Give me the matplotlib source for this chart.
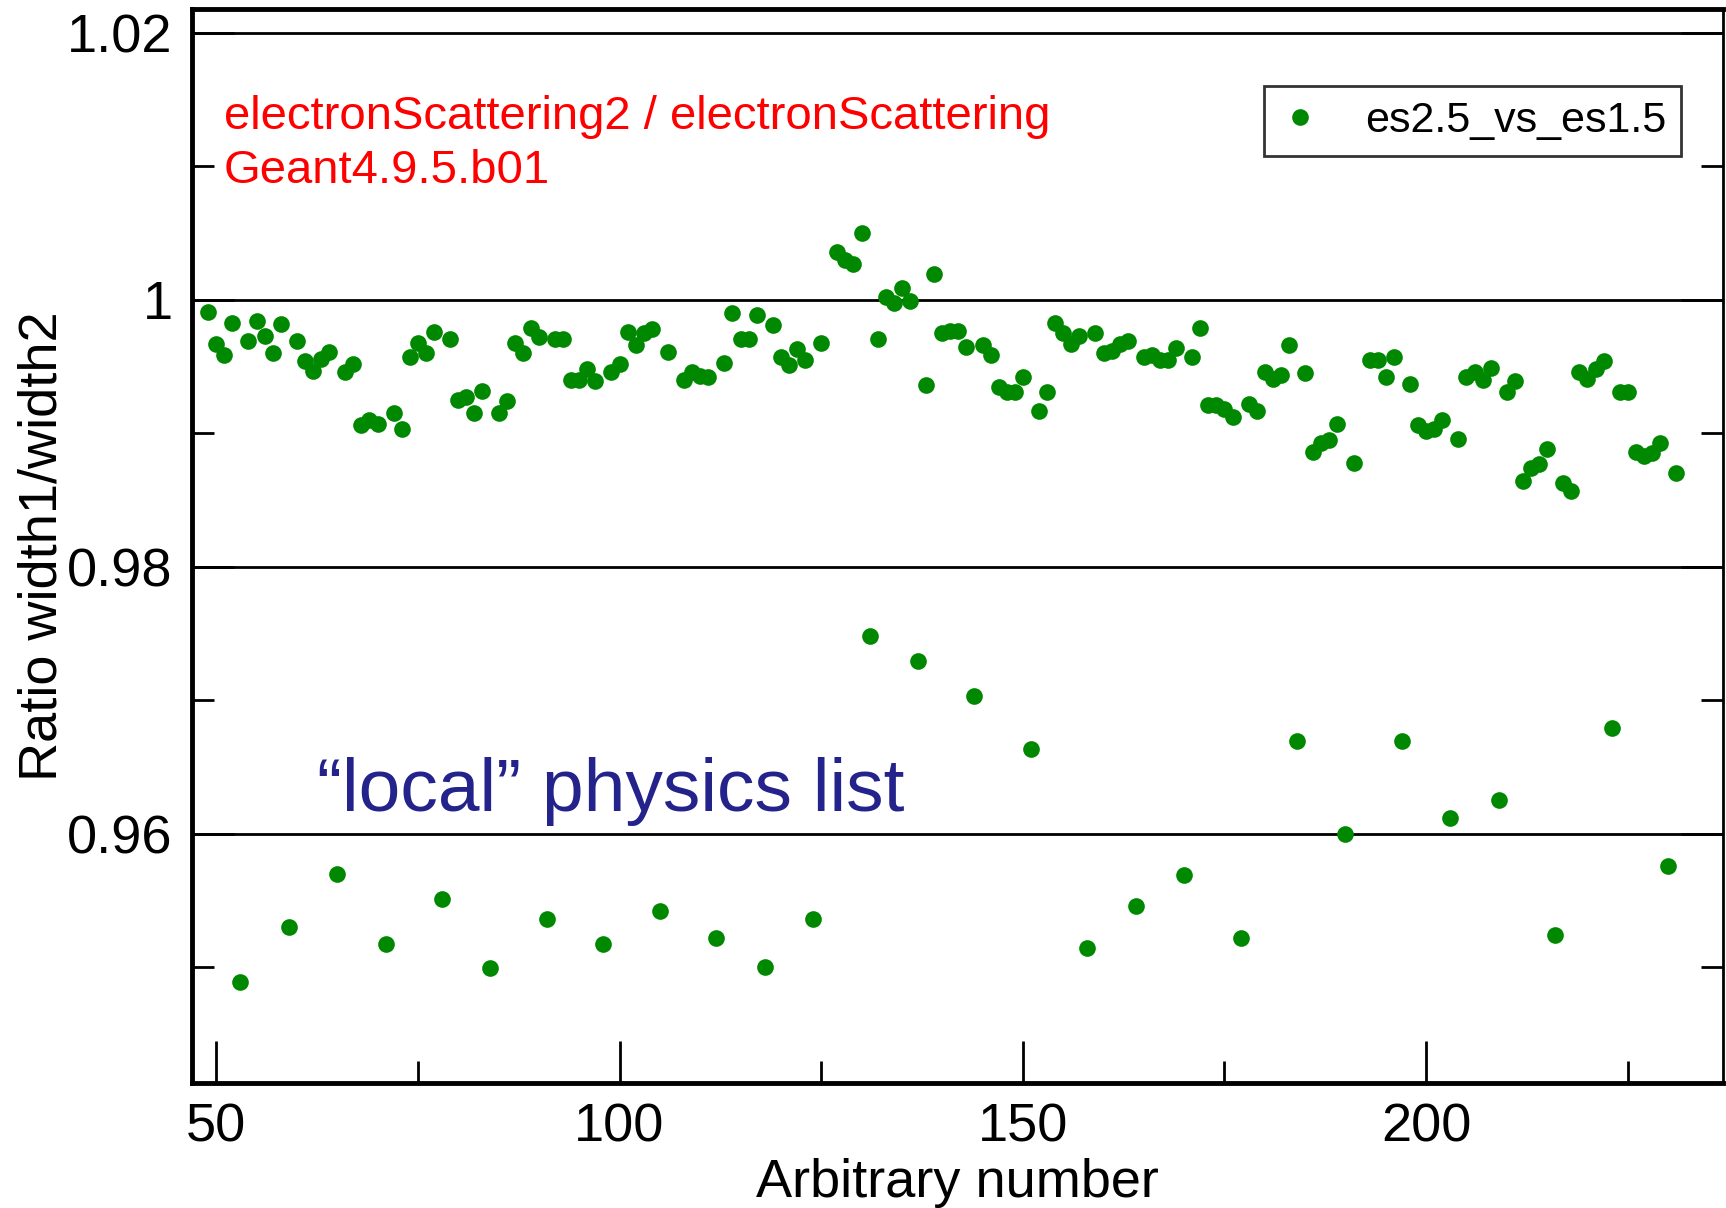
import matplotlib
matplotlib.use("Agg")
import matplotlib.pyplot as plt
from matplotlib.ticker import MultipleLocator

# es2.5 vs es1.5, one point per run number
arbitrary_number = [
    49, 50, 51, 52, 53, 54, 55, 56, 57, 58, 59, 60, 61, 62, 63, 64, 65, 66, 67, 68,
    69, 70, 71, 72, 73, 74, 75, 76, 77, 78, 79, 80, 81, 82, 83, 84, 85, 86, 87, 88,
    89, 90, 91, 92, 93, 94, 95, 96, 97, 98, 99, 100, 101, 102, 103, 104, 105, 106,
    108, 109, 110, 111, 112, 113, 114, 115, 116, 117, 118, 119, 120, 121, 122, 123,
    124, 125, 127, 128, 129, 130, 131, 132, 133, 134, 135, 136, 137, 138, 139, 140,
    141, 142, 143, 144, 145, 146, 147, 148, 149, 150, 151, 152, 153, 154, 155, 156,
    157, 158, 159, 160, 161, 162, 163, 164, 165, 166, 167, 168, 169, 170, 171, 172,
    173, 174, 175, 176, 177, 178, 179, 180, 181, 182, 183, 184, 185, 186, 187, 188,
    189, 190, 191, 193, 194, 195, 196, 197, 198, 199, 200, 201, 202, 203, 204, 205,
    206, 207, 208, 209, 210, 211, 212, 213, 214, 215, 216, 217, 218, 219, 220, 221,
    222, 223, 224, 225, 226, 227, 228, 229, 230, 231,
]
ratio = [
    0.9991, 0.9967, 0.9959, 0.9983, 0.9489, 0.9969, 0.9984, 0.9973, 0.9960, 0.9982,
    0.9530, 0.9969, 0.9954, 0.9947, 0.9956, 0.9961, 0.9570, 0.9946, 0.9952, 0.9906,
    0.9910, 0.9907, 0.9517, 0.9915, 0.9903, 0.9957, 0.9968, 0.9960, 0.9976, 0.9551,
    0.9971, 0.9925, 0.9927, 0.9915, 0.9932, 0.9499, 0.9915, 0.9924, 0.9968, 0.9960,
    0.9979, 0.9972, 0.9536, 0.9971, 0.9971, 0.9940, 0.9940, 0.9948, 0.9939, 0.9517,
    0.9946, 0.9952, 0.9976, 0.9966, 0.9975, 0.9978, 0.9542, 0.9961,
    0.9940, 0.9946, 0.9943, 0.9942, 0.9522, 0.9953, 0.9990, 0.9971, 0.9971, 0.9989,
    0.9500, 0.9981, 0.9957, 0.9951, 0.9963, 0.9955,
    0.9536, 0.9968, 1.0036, 1.0030, 1.0027, 1.0050, 0.9748, 0.9971, 1.0002, 0.9998,
    1.0009, 0.9999, 0.9729, 0.9936, 1.0019, 0.9975,
    0.9977, 0.9977, 0.9965, 0.9703, 0.9966, 0.9959, 0.9935, 0.9931, 0.9931, 0.9942,
    0.9663, 0.9917, 0.9931, 0.9983, 0.9975, 0.9967,
    0.9973, 0.9514, 0.9975, 0.9960, 0.9962, 0.9967, 0.9969, 0.9546, 0.9957, 0.9959,
    0.9955, 0.9955, 0.9964, 0.9569, 0.9957, 0.9979,
    0.9921, 0.9921, 0.9918, 0.9912, 0.9522, 0.9922, 0.9917, 0.9946, 0.9941, 0.9944,
    0.9966, 0.9669, 0.9945, 0.9886, 0.9893, 0.9895,
    0.9907, 0.9600, 0.9878, 0.9955, 0.9955, 0.9942, 0.9957, 0.9669, 0.9937, 0.9906,
    0.9902, 0.9903, 0.9910, 0.9612, 0.9896, 0.9942,
    0.9946, 0.9940, 0.9949, 0.9625, 0.9931, 0.9939, 0.9864, 0.9874, 0.9877, 0.9888,
    0.9524, 0.9863, 0.9857, 0.9946, 0.9941, 0.9948,
    0.9954, 0.9679, 0.9931, 0.9931, 0.9886, 0.9883, 0.9885, 0.9893, 0.9576, 0.9870,
]

plt.rcParams['font.family'] = ['Liberation Sans', 'DejaVu Sans']

fig = plt.figure(figsize=(17.26, 12.08), dpi=100)
ax = fig.add_axes([192/1726, 125/1208, 1531/1726, 1074/1208])

ax.plot(arbitrary_number, ratio, 'o', color='#008800', markersize=12,
        markeredgewidth=0, label='es2.5_vs_es1.5', zorder=3)

ax.set_xlim(47, 236.8)
ax.set_ylim(0.9413, 1.0218)

ax.xaxis.set_major_locator(MultipleLocator(50))
ax.xaxis.set_minor_locator(MultipleLocator(25))
ax.yaxis.set_major_locator(MultipleLocator(0.02))
ax.yaxis.set_minor_locator(MultipleLocator(0.01))
ax.set_yticks([0.96, 0.98, 1.0, 1.02])
ax.set_yticklabels(['0.96', '0.98', '1', '1.02'])

ax.tick_params(which='both', direction='in', top=False, right=True,
               labelsize=39, pad=14, width=2)
ax.tick_params(which='major', length=30)
ax.tick_params(which='minor', length=16)
ax.yaxis.grid(True, which='major', color='black', linewidth=2)

for side in ['left', 'bottom', 'top']:
    ax.spines[side].set_linewidth(3.5)
ax.spines['right'].set_linewidth(2)

ax.set_xlabel('Arbitrary number', fontsize=39, labelpad=4)
ax.set_ylabel('Ratio width1/width2', fontsize=39, labelpad=0)

ax.text(0.0206, 0.888, 'electronScattering2 / electronScattering',
        transform=ax.transAxes, color='red', fontsize=34)
ax.text(0.0206, 0.838, 'Geant4.9.5.b01',
        transform=ax.transAxes, color='red', fontsize=34)
ax.text(0.0816, 0.253, '\u201clocal\u201d physics list',
        transform=ax.transAxes, color='#23238b', fontsize=54)

leg = ax.legend(loc='upper right', bbox_to_anchor=(0.9726, 0.9284), fontsize=31,
                frameon=True, fancybox=False, edgecolor='black', borderaxespad=0,
                handlelength=1.0, handletextpad=1.0, borderpad=0.35, markerscale=1.0)
leg.get_frame().set_linewidth(2)

fig.savefig('out.png', dpi=100)
